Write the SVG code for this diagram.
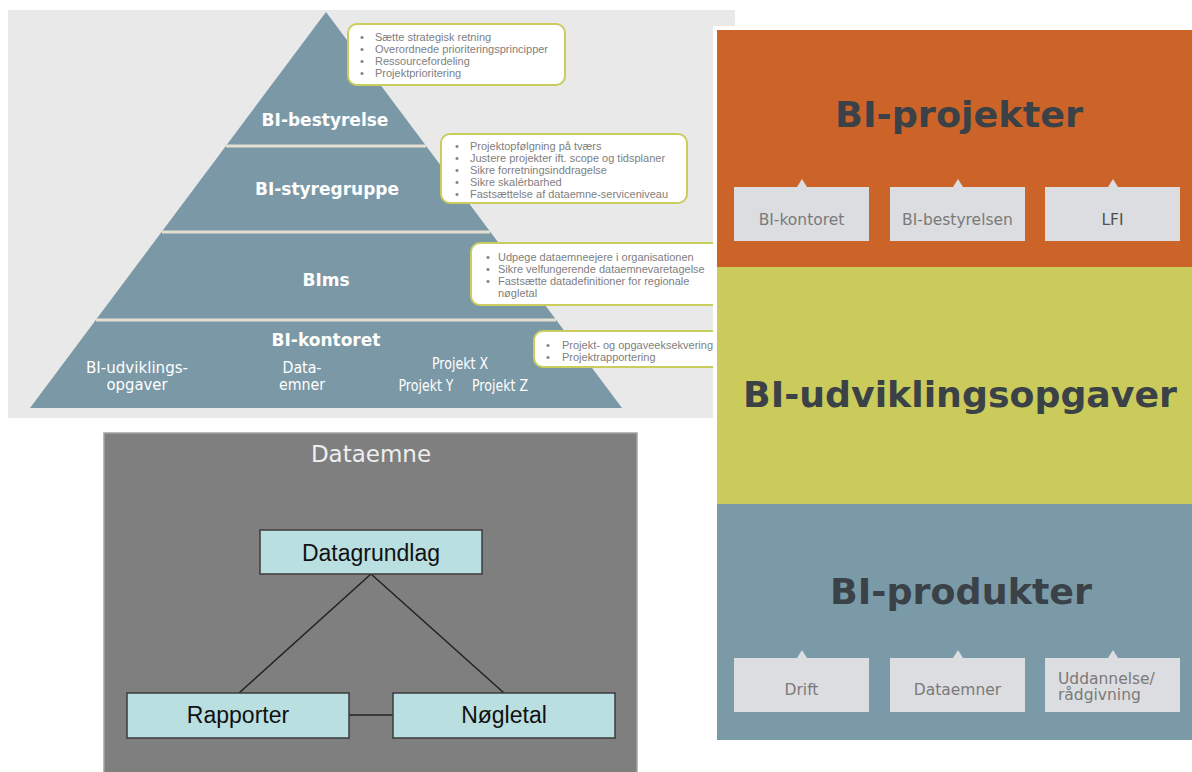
<svg xmlns="http://www.w3.org/2000/svg" width="1192" height="772" viewBox="0 0 1192 772">
  <style>
    .tier { font-family: "DejaVu Sans", Verdana, sans-serif; font-weight: bold; font-size: 17px; fill: #ffffff; text-anchor: middle; }
    .sub { font-family: "DejaVu Sans", Verdana, sans-serif; font-size: 15px; fill: #ffffff; text-anchor: middle; }
    .note { fill: #ffffff; stroke: #c8cd5c; stroke-width: 2; }
    .nt { font-family: "Liberation Sans", Arial, sans-serif; font-size: 11px; fill: #808080; }
    .sep { stroke: #e4e0d2; stroke-width: 3; }
    .big { font-family: "DejaVu Sans", Verdana, sans-serif; font-weight: bold; font-size: 35px; fill: #3a4147; text-anchor: middle; }
    .tab { fill: #dcdde0; }
    .tt { font-family: "DejaVu Sans", Verdana, sans-serif; font-size: 15.5px; fill: #7a7a7a; text-anchor: middle; }
    .box { fill: #b9dfe0; stroke: #3d3d3d; stroke-width: 1.5; }
    .bt { font-family: "Liberation Sans", Arial, sans-serif; font-size: 23px; fill: #111111; text-anchor: middle; }
    .link { stroke: #222222; stroke-width: 1.5; fill: none; }
  </style>
  <defs>
    <path id="tabShape" d="M0,8 H63 L68,0 L73,8 H135 V62 H0 Z"/>
  </defs>

  <rect x="0" y="0" width="1192" height="772" fill="#ffffff"/>

  <!-- governance pyramid -->
  <g id="pyramid-panel">
    <rect x="8" y="10" width="727" height="408" fill="#e9e9e9"/>
    <polygon points="326,12 622,408 30,408" fill="#7b98a6"/>
    <line class="sep" x1="226" y1="146" x2="426" y2="146"/>
    <line class="sep" x1="162" y1="232" x2="490" y2="232"/>
    <line class="sep" x1="96" y1="320" x2="556" y2="320"/>
  </g>

  <g id="tier-bestyrelse">
    <text class="tier" x="325" y="126">BI-bestyrelse</text>
  </g>
  <g id="tier-styregruppe">
    <text class="tier" x="327" y="195">BI-styregruppe</text>
  </g>
  <g id="tier-bims">
    <text class="tier" x="326" y="286">BIms</text>
  </g>
  <g id="tier-kontoret">
    <text class="tier" x="326" y="346">BI-kontoret</text>
    <text class="sub" x="137" y="373" textLength="102" lengthAdjust="spacingAndGlyphs">BI-udviklings-</text>
    <text class="sub" x="137" y="390" textLength="61" lengthAdjust="spacingAndGlyphs">opgaver</text>
    <text class="sub" x="302" y="373" textLength="39" lengthAdjust="spacingAndGlyphs">Data-</text>
    <text class="sub" x="302" y="390" textLength="46" lengthAdjust="spacingAndGlyphs">emner</text>
    <text class="sub" x="460" y="369" textLength="56" lengthAdjust="spacingAndGlyphs">Projekt X</text>
    <text class="sub" x="426" y="391" textLength="55" lengthAdjust="spacingAndGlyphs">Projekt Y</text>
    <text class="sub" x="500" y="391" textLength="56" lengthAdjust="spacingAndGlyphs">Projekt Z</text>
  </g>

  <!-- responsibility notes -->
  <g id="note-bestyrelse">
    <rect class="note" x="348" y="24" width="217" height="61" rx="9"/>
    <text class="nt" x="360" y="41">•</text><text class="nt" x="375" y="41">Sætte strategisk retning</text>
    <text class="nt" x="360" y="53">•</text><text class="nt" x="375" y="53">Overordnede prioriteringsprincipper</text>
    <text class="nt" x="360" y="65">•</text><text class="nt" x="375" y="65">Ressourcefordeling</text>
    <text class="nt" x="360" y="77">•</text><text class="nt" x="375" y="77">Projektprioritering</text>
  </g>
  <g id="note-styregruppe">
    <rect class="note" x="441" y="134" width="246" height="69" rx="9"/>
    <text class="nt" x="455" y="150">•</text><text class="nt" x="470" y="150">Projektopfølgning på tværs</text>
    <text class="nt" x="455" y="162">•</text><text class="nt" x="470" y="162">Justere projekter ift. scope og tidsplaner</text>
    <text class="nt" x="455" y="174">•</text><text class="nt" x="470" y="174">Sikre forretningsinddragelse</text>
    <text class="nt" x="455" y="186">•</text><text class="nt" x="470" y="186">Sikre skalérbarhed</text>
    <text class="nt" x="455" y="198">•</text><text class="nt" x="470" y="198">Fastsættelse af dataemne-serviceniveau</text>
  </g>
  <g id="note-bims">
    <rect class="note" x="471" y="243" width="280" height="62" rx="9"/>
    <text class="nt" x="486" y="261">•</text><text class="nt" x="498" y="261">Udpege dataemneejere i organisationen</text>
    <text class="nt" x="486" y="273">•</text><text class="nt" x="498" y="273">Sikre velfungerende dataemnevaretagelse</text>
    <text class="nt" x="486" y="285">•</text><text class="nt" x="498" y="285">Fastsætte datadefinitioner for regionale</text>
    <text class="nt" x="498" y="297">nøgletal</text>
  </g>
  <g id="note-kontoret">
    <rect class="note" x="534" y="331" width="220" height="36" rx="9"/>
    <text class="nt" x="546" y="349">•</text><text class="nt" x="562" y="349">Projekt- og opgaveeksekvering</text>
    <text class="nt" x="546" y="361">•</text><text class="nt" x="562" y="361">Projektrapportering</text>
  </g>

  <!-- portfolio layers -->
  <g id="layer-frame">
    <rect x="713" y="26" width="479" height="720" fill="#ffffff"/>
  </g>
  <g id="layer-projekter">
    <rect x="717" y="30" width="475" height="237" fill="#cc6429"/>
    <text class="big" x="959" y="127" textLength="248" lengthAdjust="spacingAndGlyphs">BI-projekter</text>
    <use href="#tabShape" class="tab" x="734" y="179"/>
    <use href="#tabShape" class="tab" x="890" y="179"/>
    <use href="#tabShape" class="tab" x="1045" y="179"/>
    <text class="tt" x="801.5" y="225">BI-kontoret</text>
    <text class="tt" x="957.5" y="225">BI-bestyrelsen</text>
    <text class="tt" x="1112.5" y="225" style="fill:#505050">LFI</text>
  </g>
  <g id="layer-udvikling">
    <rect x="717" y="267" width="475" height="237" fill="#cbcb5c"/>
    <text class="big" x="960" y="407" textLength="434" lengthAdjust="spacingAndGlyphs">BI-udviklingsopgaver</text>
  </g>
  <g id="layer-produkter">
    <rect x="717" y="504" width="475" height="236" fill="#7b9aa8"/>
    <text class="big" x="961" y="604" textLength="262" lengthAdjust="spacingAndGlyphs">BI-produkter</text>
    <use href="#tabShape" class="tab" x="734" y="650"/>
    <use href="#tabShape" class="tab" x="890" y="650"/>
    <use href="#tabShape" class="tab" x="1045" y="650"/>
    <text class="tt" x="801.5" y="695">Drift</text>
    <text class="tt" x="957.5" y="695">Dataemner</text>
    <text class="tt" x="1058" y="684" style="text-anchor:start">Uddannelse/</text>
    <text class="tt" x="1058" y="700" style="text-anchor:start">rådgivning</text>
  </g>

  <!-- data subject model -->
  <g id="dataemne-panel">
    <rect x="104" y="433" width="533" height="345" fill="#7f7f7f" stroke="#a3a3a3" stroke-width="1.5"/>
    <text x="371" y="462" font-family="DejaVu Sans, Verdana, sans-serif" font-size="23" fill="#eeeeee" text-anchor="middle">Dataemne</text>
  </g>
  <g id="connectors">
    <line class="link" x1="371" y1="574" x2="239" y2="693"/>
    <line class="link" x1="371" y1="574" x2="504" y2="693"/>
    <line class="link" x1="349" y1="715" x2="393" y2="715"/>
  </g>
  <g id="node-datagrundlag">
    <rect class="box" x="260" y="530" width="222" height="44"/>
    <text class="bt" x="371" y="561">Datagrundlag</text>
  </g>
  <g id="node-rapporter">
    <rect class="box" x="127" y="693" width="222" height="45"/>
    <text class="bt" x="238" y="723">Rapporter</text>
  </g>
  <g id="node-noegletal">
    <rect class="box" x="393" y="693" width="222" height="45"/>
    <text class="bt" x="504" y="723">Nøgletal</text>
  </g>
</svg>
